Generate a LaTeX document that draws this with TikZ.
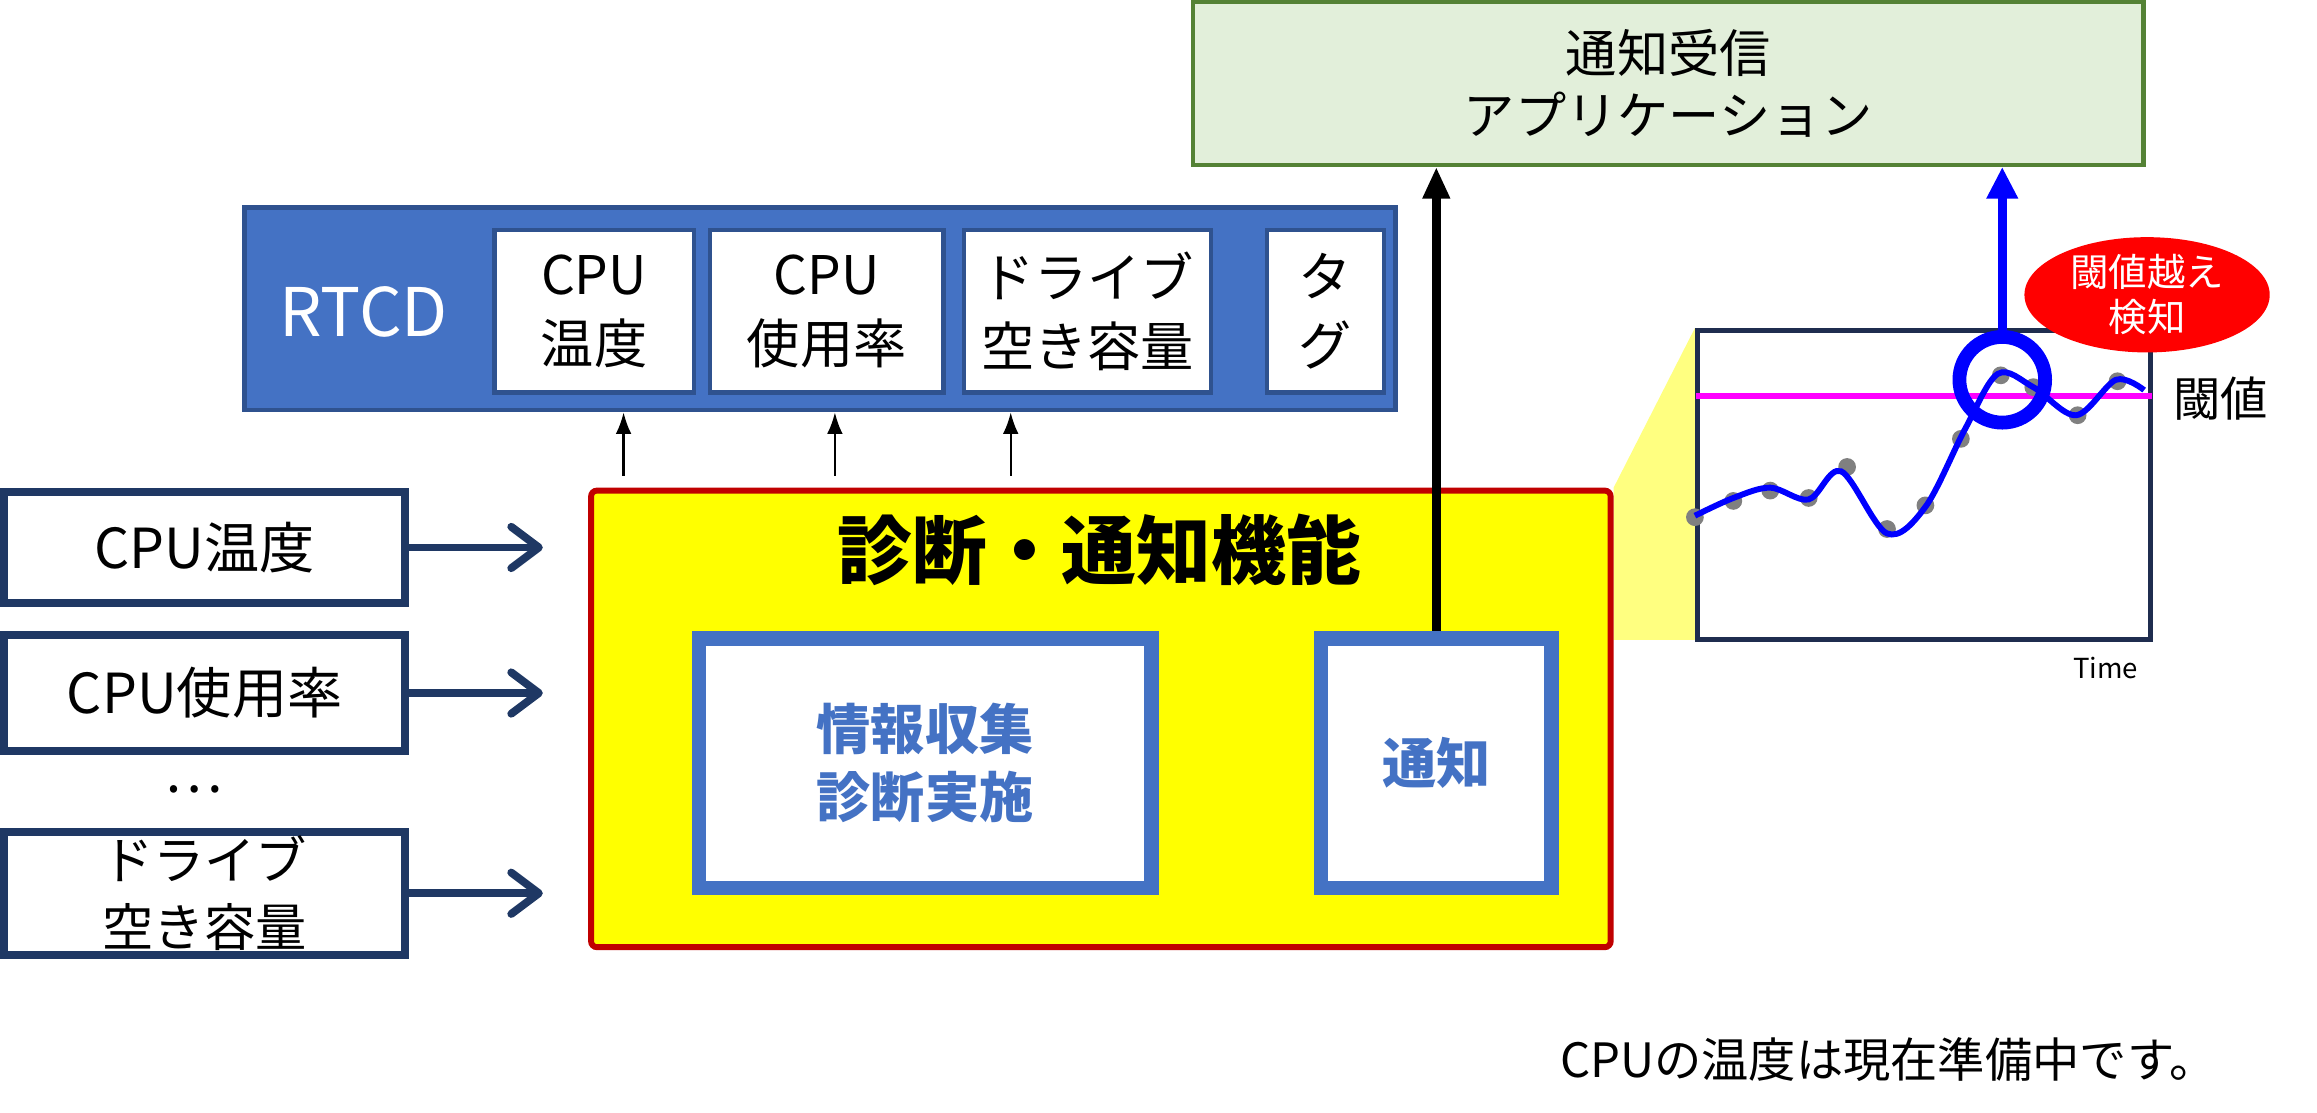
\documentclass[tikz,border=0pt]{standalone}
\usepackage{fontspec}
\setmainfont{Noto Sans CJK JP}
\usepackage{xcolor}
\usepackage{tikz}
\usetikzlibrary{positioning, arrows.meta, shapes.geometric}
\definecolor{navy}{HTML}{1F3864}
\definecolor{rtcdblue}{HTML}{4472C4}
\definecolor{rtcdedge}{HTML}{2F528F}
\definecolor{diagred}{HTML}{C00000}
\definecolor{diagyellow}{HTML}{FFFF00}
\definecolor{calloutyellow}{HTML}{FFFF80}
\definecolor{appfill}{HTML}{E2EFDA}
\definecolor{appedge}{HTML}{548235}
\definecolor{chartedge}{HTML}{1F2D4F}
\definecolor{dotgray}{HTML}{808080}
\definecolor{limitpink}{HTML}{FF00FF}
\definecolor{alertred}{HTML}{FF0000}
\definecolor{peakblue}{HTML}{0000FF}

\begin{document}
\begin{tikzpicture}[
    x=0.75pt, y=-0.75pt,
    every node/.style={align=center, inner sep=0pt},
    inbox/.style={rectangle, draw=navy, line width=4pt, fill=white, minimum width=203.25pt},
    rtcdbar/.style={rectangle, draw=rtcdedge, line width=2.25pt, fill=rtcdblue, minimum width=584.25pt, minimum height=102.75pt},
    field/.style={rectangle, draw=rtcdedge, line width=2.25pt, fill=white, minimum height=82.5pt, font=\fontsize{27}{35}\selectfont},
    diagbox/.style={rectangle, draw=diagred, line width=3pt, fill=diagyellow, rounded corners=3pt, minimum width=517.5pt, minimum height=231.75pt},
    part/.style={rectangle, draw=rtcdblue, line width=7.5pt, fill=white, minimum height=126.75pt, text=rtcdblue, font=\fontsize{27.5}{34.5}\selectfont\bfseries},
    appbox/.style={rectangle, draw=appedge, line width=2.25pt, fill=appfill, minimum width=482.25pt, minimum height=82.5pt, font=\fontsize{26}{31.5}\selectfont},
    inarrow/.style={draw=navy, line width=4pt, -{Straight Barb[length=14pt, width=21pt, round]}, shorten >=23pt},
    smallarrow/.style={draw=black, line width=1.2pt, -{Latex[length=11pt, width=8pt]}},
    bigarrow/.style={draw=black, line width=4.5pt, -{Triangle[length=16pt, width=13pt]}},
    alertarrow/.style={draw=peakblue, line width=4.5pt, -{Triangle[length=16pt, width=15pt]}}
]
\useasboundingbox (0,0) rectangle (1568,753);

\node (TEMPIN) [inbox, minimum height=56.25pt, font=\fontsize{28}{34}\selectfont] at (138.5,370.5) {CPU温度};
\node (USAGEIN) [inbox, minimum height=58.5pt, font=\fontsize{28}{34}\selectfont] at (138.5,469) {CPU使用率};
\node (DOTS) [font=\fontsize{28}{34}\selectfont] at (131,534) {…};
\node (DRIVEIN) [inbox, minimum height=62.25pt, font=\fontsize{26}{34}\selectfont] at (138.5,604.5) {ドライブ\\空き容量};

\node (RTCD) [rtcdbar] at (555,209) {};
\node (RTCDTEXT) [text=white, font=\fontsize{34}{40}\selectfont] at (246,211) {RTCD};
\node (FTEMP) [field, minimum width=101.25pt] at (402,210.5) {CPU\\温度};
\node (FUSAGE) [field, minimum width=118.5pt] at (559.5,210.5) {CPU\\使用率};
\node (FDRIVE) [field, minimum width=125.25pt] at (736,210.5) {ドライブ\\空き容量};
\node (FTAG) [field, minimum width=59.25pt] at (897,210.5) {タ\\グ};

\node (APP) [appbox] at (1129,56.5) {通知受信\\アプリケーション};

\fill [calloutyellow] (1092,330) -- (1147,222) -- (1147,433) -- (1092,433) -- cycle;

\node (DIAG) [diagbox] at (745,486.5) {};
\node (DIAGTITLE) [font=\fontsize{38}{44}\selectfont\bfseries] at (744,372) {診断・通知機能};
\node (GATHER) [part, minimum width=229.5pt] at (626,516.5) {情報収集\\診断実施};
\node (NOTIFY) [part, minimum width=117pt] at (972,516.5) {通知};

\node (CHART) [rectangle, draw=chartedge, line width=2.5pt, fill=white, minimum width=230.25pt, minimum height=156.75pt] at (1302,328) {};
\draw [limitpink, line width=3pt] (1148,268) -- (1456,268);
\foreach \px/\py in {1147/350, 1173/339, 1198/332, 1224/337, 1250/316, 1277/358, 1303/342, 1327/297, 1354/254, 1376/262, 1406/281, 1433/258}
    \fill [dotgray] (\px,\py) circle (4.5pt);
\draw [peakblue, line width=3pt] plot [smooth, tension=0.55] coordinates {(1147,349) (1173,337) (1198,330) (1224,338) (1246,319) (1277,361) (1303,343) (1330,290) (1352,253) (1376,262) (1405,281) (1432,257) (1451,264)};
\node (TIME) [font=\fontsize{14}{16}\selectfont] at (1425,452) {Time};
\node (LIMIT) [font=\fontsize{24}{28}\selectfont] at (1503,270) {閾値};

\node (ALERT) [ellipse, fill=alertred, text=white, minimum width=124.5pt, minimum height=58.5pt, font=\fontsize{19.5}{23}\selectfont] at (1453,199.5) {閾値越え\\検知};
\node (PEAK) [circle, draw=peakblue, line width=7pt, minimum size=43.5pt] at (1355,257) {};

\coordinate (UPA) at (422,322);
\coordinate (UPB) at (565,322);
\coordinate (UPC) at (684,322);

\draw [inarrow] (TEMPIN.east) -- (TEMPIN.east -| DIAG.west);
\draw [inarrow] (USAGEIN.east) -- (USAGEIN.east -| DIAG.west);
\draw [inarrow] (DRIVEIN.east) -- (DRIVEIN.east -| DIAG.west);
\draw [smallarrow] (UPA) -- (UPA |- RTCD.south);
\draw [smallarrow] (UPB) -- (UPB |- RTCD.south);
\draw [smallarrow] (UPC) -- (UPC |- RTCD.south);
\draw [bigarrow] (NOTIFY.north) -- (NOTIFY.north |- APP.south);
\draw [alertarrow] (PEAK.north) -- (PEAK.north |- APP.south);

\node (NOTE) [font=\fontsize{24}{28}\selectfont] at (1278,717) {CPUの温度は現在準備中です。};
\end{tikzpicture}
\end{document}
